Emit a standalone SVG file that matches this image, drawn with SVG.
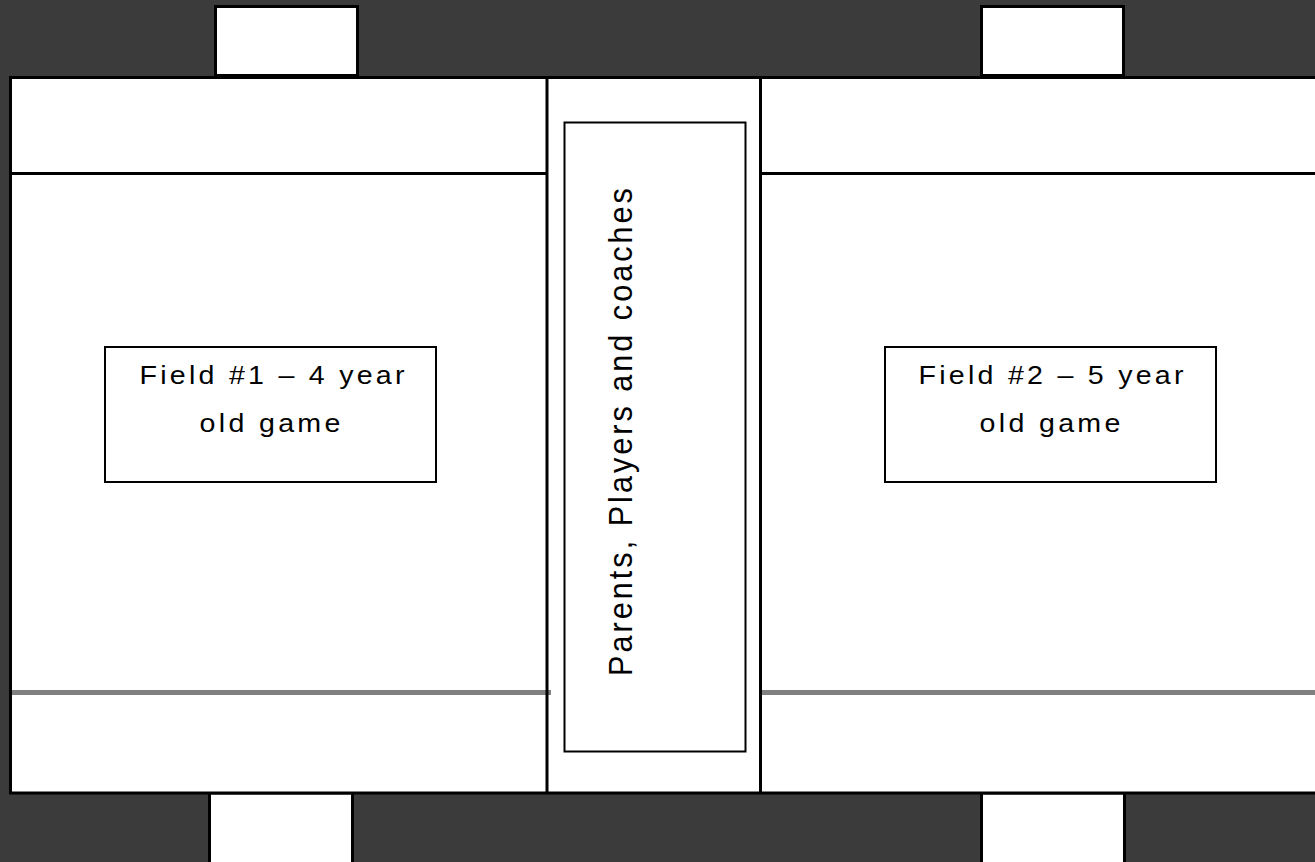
<svg xmlns="http://www.w3.org/2000/svg" width="1315" height="862" viewBox="0 0 1315 862">
<style>
.bg{fill:#3b3b3b}
.w{fill:#fff;stroke:#000;stroke-width:3}
.box{fill:#fff;stroke:#000;stroke-width:2}
.ln{stroke:#000;stroke-width:3;fill:none}
.gl{stroke:#808080;stroke-width:5;fill:none}
.t{font-family:"Liberation Sans",Arial,sans-serif;fill:#000}
</style>
<rect class="bg" x="0" y="0" width="1315" height="862"/>
<g id="goals">
<rect class="w" x="215.5" y="6.5" width="142" height="69"/>
<rect class="w" x="981.5" y="6.5" width="142" height="69"/>
<rect class="w" x="209.5" y="793" width="143" height="80"/>
<rect class="w" x="981.5" y="793" width="143" height="80"/>
</g>
<g id="fields">
<rect class="w" x="10.5" y="77.5" width="1320" height="715.5"/>
<line class="ln" x1="12" y1="173.5" x2="546" y2="173.5"/>
<line class="ln" x1="761" y1="173.5" x2="1315" y2="173.5"/>
<line class="gl" x1="12" y1="692.5" x2="551" y2="692.5"/>
<line class="gl" x1="762" y1="692.5" x2="1315" y2="692.5"/>
<line class="ln" x1="547" y1="77" x2="547" y2="793"/>
<line class="ln" x1="760.5" y1="77" x2="760.5" y2="793"/>
</g>
<g id="spectators">
<rect class="box" x="564.5" y="122.5" width="181" height="629"/>
<text class="t" font-size="34" transform="translate(632,432) rotate(-90) scale(0.9,1)" text-anchor="middle" textLength="542" lengthAdjust="spacing">Parents, Players and coaches</text>
</g>
<g id="field1">
<rect class="box" x="105" y="347" width="331" height="135"/>
<text class="t" font-size="26" transform="translate(272,384) scale(1.1,1)" text-anchor="middle" textLength="241" lengthAdjust="spacing">Field #1 – 4 year</text>
<text class="t" font-size="26" transform="translate(270,432) scale(1.1,1)" text-anchor="middle" textLength="128" lengthAdjust="spacing">old game</text>
</g>
<g id="field2">
<rect class="box" x="885" y="347" width="331" height="135"/>
<text class="t" font-size="26" transform="translate(1051,384) scale(1.1,1)" text-anchor="middle" textLength="241" lengthAdjust="spacing">Field #2 – 5 year</text>
<text class="t" font-size="26" transform="translate(1050,432) scale(1.1,1)" text-anchor="middle" textLength="128" lengthAdjust="spacing">old game</text>
</g>
</svg>
